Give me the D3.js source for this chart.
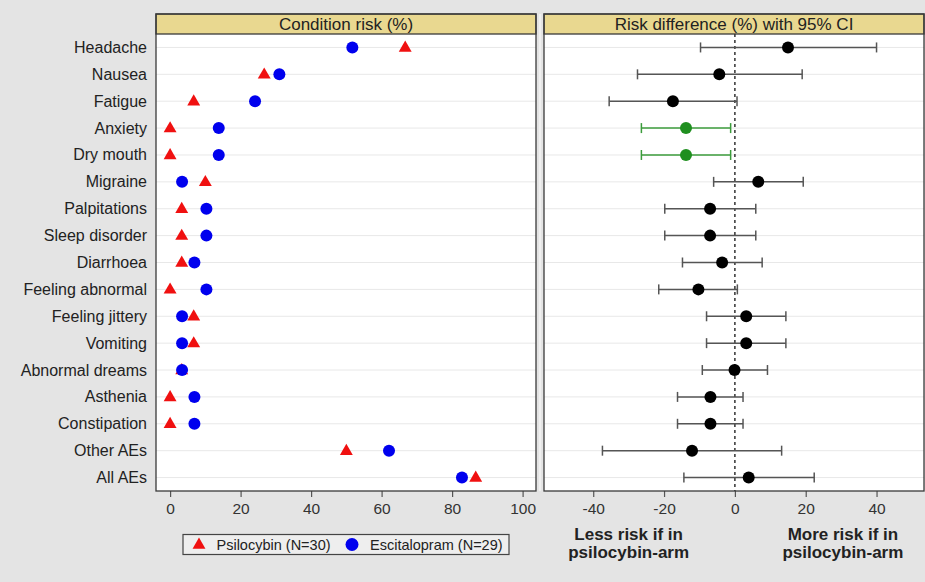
<!DOCTYPE html>
<html>
<head>
<meta charset="utf-8">
<script src="https://cdn.jsdelivr.net/npm/d3@7"></script>
<style>
  html, body { margin: 0; padding: 0; background: #e4e4e4; }
  svg { display: block; font-family: "Liberation Sans", Arial, Helvetica, sans-serif; }
</style>
</head>
<body>
<svg id="chart" width="925" height="582"></svg>
<script>
// Adverse events by arm: condition risk (%) and risk difference (%) with 95% CI
const categories = ["Headache", "Nausea", "Fatigue", "Anxiety", "Dry mouth", "Migraine",
  "Palpitations", "Sleep disorder", "Diarrhoea", "Feeling abnormal", "Feeling jittery",
  "Vomiting", "Abnormal dreams", "Asthenia", "Constipation", "Other AEs", "All AEs"];

const psilocybin   = [66.7, 26.7, 6.7, 0, 0, 10.0, 3.3, 3.3, 3.3, 0, 6.7, 6.7, 3.3, 0, 0, 50.0, 86.7];
const escitalopram = [51.7, 31.0, 24.1, 13.8, 13.8, 3.4, 10.3, 10.3, 6.9, 10.3, 3.4, 3.4, 3.4, 6.9, 6.9, 62.1, 82.8];

const riskDiff = [15.0, -4.4, -17.5, -13.8, -13.8, 6.6, -7.0, -7.0, -3.6, -10.3, 3.2, 3.2, -0.1, -6.9, -6.9, -12.1, 3.9];
const ciLower  = [-9.7, -27.5, -35.5, -26.4, -26.4, -6.0, -19.8, -19.8, -14.8, -21.5, -8.0, -8.0, -9.2, -16.2, -16.2, -37.4, -14.4];
const ciUpper  = [40.0, 19.0, 0.6, -1.2, -1.2, 19.3, 5.9, 5.9, 7.7, 0.7, 14.4, 14.4, 9.2, 2.3, 2.3, 13.2, 22.4];

const riskTicks = [0, 20, 40, 60, 80, 100];
const diffTicks = [-40, -20, 0, 20, 40];

const leftTitle = "Condition risk (%)";
const rightTitle = "Risk difference (%) with 95% CI";
const legendLabels = ["Psilocybin (N=30)", "Escitalopram (N=29)"];

const svg = d3.select("#chart");
const C = {
  red: "#f01010", blue: "#0000ee", green: "#1f8f1f", greenLine: "#3c9c3c",
  header: "#e9d890", frame: "#3a3a3a", grid: "#e8e8e8", text: "#222"
};

const frameTop = 14, headerH = 20, frameBottom = 491;
const plotTop = frameTop + headerH;
const leftPanel = { x0: 156, x1: 536 };
const rightPanel = { x0: 544, x1: 924 };

const y = d3.scalePoint().domain(categories).range([plotTop, frameBottom]).padding(0.5);
const xRisk = d3.scaleLinear().domain([-4, 103.8]).range([leftPanel.x0, leftPanel.x1]);
const xDiff = d3.scaleLinear().domain([-53.9, 53.4]).range([rightPanel.x0, rightPanel.x1]);

// light divider between the two panels
svg.append("line")
  .attr("x1", 540).attr("x2", 540).attr("y1", frameTop).attr("y2", frameBottom)
  .attr("stroke", "#f4f4f4").attr("stroke-width", 1.5);

function panel(p, title, x, ticks) {
  const g = svg.append("g");
  g.append("rect")
    .attr("x", p.x0).attr("y", plotTop).attr("width", p.x1 - p.x0).attr("height", frameBottom - plotTop)
    .attr("fill", "#fff");
  // horizontal gridlines
  g.selectAll("line.grid").data(categories).join("line")
    .attr("class", "grid")
    .attr("x1", p.x0).attr("x2", p.x1)
    .attr("y1", d => y(d)).attr("y2", d => y(d))
    .attr("stroke", C.grid).attr("stroke-width", 1);
  // header strip
  g.append("rect")
    .attr("x", p.x0).attr("y", frameTop).attr("width", p.x1 - p.x0).attr("height", headerH)
    .attr("fill", C.header).attr("stroke", C.frame).attr("stroke-width", 1.3);
  g.append("text")
    .attr("x", (p.x0 + p.x1) / 2).attr("y", frameTop + headerH / 2 + 6)
    .attr("text-anchor", "middle").attr("font-size", 17).attr("fill", C.text)
    .text(title);
  // bottom axis, plain hyphen for negative numbers
  const axis = d3.axisBottom(x).tickValues(ticks).tickSize(6).tickPadding(6).tickFormat(d => String(d));
  const ag = g.append("g").attr("transform", `translate(0,${frameBottom})`).call(axis);
  ag.select(".domain").remove();
  ag.selectAll(".tick line").attr("stroke", "#555").attr("stroke-width", 1.2);
  ag.selectAll(".tick text").attr("font-size", 15.5).attr("fill", "#333")
    .attr("font-family", "'Liberation Sans', Arial, sans-serif");
  return g;
}

const gL = panel(leftPanel, leftTitle, xRisk, riskTicks);
const gR = panel(rightPanel, rightTitle, xDiff, diffTicks);

// category labels
svg.append("g").selectAll("text").data(categories).join("text")
  .attr("x", 147).attr("y", d => y(d) + 5.5)
  .attr("text-anchor", "end").attr("font-size", 16).attr("fill", C.text)
  .text(d => d);

// left panel markers: psilocybin triangles, escitalopram circles
const tri = d3.symbol().type(d3.symbolTriangle).size(72);
gL.append("g").selectAll("path").data(categories).join("path")
  .attr("d", tri)
  .attr("transform", (d, i) => `translate(${xRisk(psilocybin[i])},${y(d) + 0.5})`)
  .attr("fill", C.red);
gL.append("g").selectAll("circle").data(categories).join("circle")
  .attr("cx", (d, i) => xRisk(escitalopram[i])).attr("cy", d => y(d))
  .attr("r", 6).attr("fill", C.blue);

// right panel: zero reference line
gR.append("line")
  .attr("x1", xDiff(0)).attr("x2", xDiff(0)).attr("y1", plotTop).attr("y2", frameBottom)
  .attr("stroke", "#333").attr("stroke-width", 1.5).attr("stroke-dasharray", "3,3");

// confidence intervals and point estimates
const sig = i => ciUpper[i] < 0 || ciLower[i] > 0;
const capH = 5;
const ci = gR.append("g").selectAll("g").data(categories).join("g");
ci.append("line")
  .attr("x1", (d, i) => xDiff(ciLower[i])).attr("x2", (d, i) => xDiff(ciUpper[i]))
  .attr("y1", d => y(d)).attr("y2", d => y(d))
  .attr("stroke", (d, i) => sig(i) ? C.greenLine : "#555").attr("stroke-width", 1.5);
ci.append("line")
  .attr("x1", (d, i) => xDiff(ciLower[i])).attr("x2", (d, i) => xDiff(ciLower[i]))
  .attr("y1", d => y(d) - capH).attr("y2", d => y(d) + capH)
  .attr("stroke", (d, i) => sig(i) ? C.greenLine : "#555").attr("stroke-width", 1.5);
ci.append("line")
  .attr("x1", (d, i) => xDiff(ciUpper[i])).attr("x2", (d, i) => xDiff(ciUpper[i]))
  .attr("y1", d => y(d) - capH).attr("y2", d => y(d) + capH)
  .attr("stroke", (d, i) => sig(i) ? C.greenLine : "#555").attr("stroke-width", 1.5);
ci.append("circle")
  .attr("cx", (d, i) => xDiff(riskDiff[i])).attr("cy", d => y(d))
  .attr("r", 6).attr("fill", (d, i) => sig(i) ? C.green : "#000");

// panel frames
[leftPanel, rightPanel].forEach(p => {
  svg.append("rect")
    .attr("x", p.x0).attr("y", frameTop).attr("width", p.x1 - p.x0).attr("height", frameBottom - frameTop)
    .attr("fill", "none").attr("stroke", C.frame).attr("stroke-width", 1.3);
});

// direction annotations under the risk-difference axis
const notes = [
  { x: xDiff(-30), lines: ["Less risk if in", "psilocybin-arm"] },
  { x: xDiff(30.5), lines: ["More risk if in", "psilocybin-arm"] }
];
notes.forEach(n => {
  const t = svg.append("text").attr("text-anchor", "middle")
    .attr("font-size", 17).attr("font-weight", "bold").attr("fill", "#222");
  n.lines.forEach((l, k) => t.append("tspan").attr("x", n.x).attr("y", 540 + k * 17.5).text(l));
});

// legend
const lg = svg.append("g");
lg.append("rect").attr("x", 183).attr("y", 534.5).attr("width", 326).attr("height", 20)
  .attr("fill", "#eeeeee").attr("stroke", "#444").attr("stroke-width", 1.2);
lg.append("path").attr("d", tri).attr("transform", "translate(199,545)").attr("fill", C.red);
lg.append("circle").attr("cx", 352).attr("cy", 544.5).attr("r", 6.5).attr("fill", C.blue);
lg.append("text").attr("x", 216.5).attr("y", 549.5).attr("font-size", 14.5).attr("fill", C.text).text(legendLabels[0]);
lg.append("text").attr("x", 370).attr("y", 549.5).attr("font-size", 14.5).attr("fill", C.text).text(legendLabels[1]);
</script>
</body>
</html>
